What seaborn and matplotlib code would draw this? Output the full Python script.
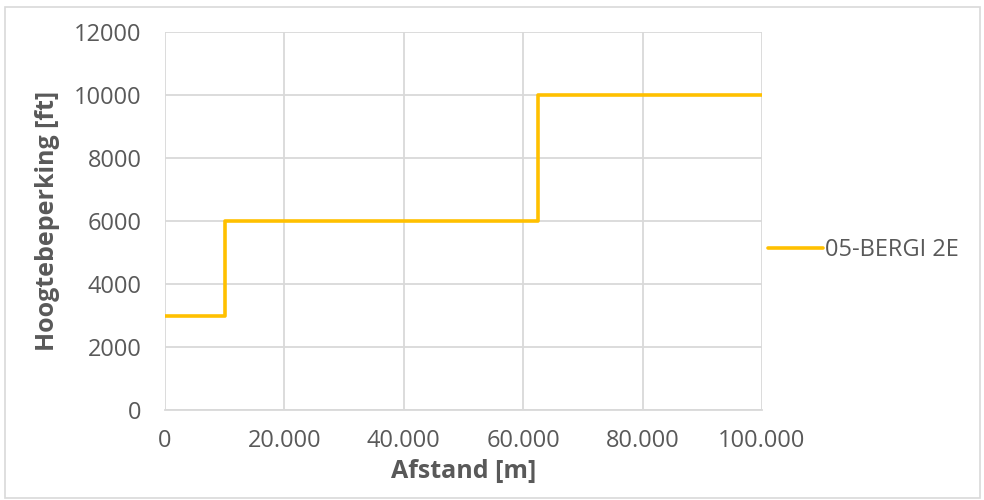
import matplotlib
matplotlib.use("Agg")
import matplotlib.pyplot as plt
import matplotlib.ticker as mticker
import seaborn as sns
import pandas as pd

# Data
afstand = [0, 10000, 62500, 100000]
hoogte = [3000, 6000, 10000, 10000]
series_name = "05-BERGI 2E"

x_ticks = [0, 20000, 40000, 60000, 80000, 100000]
y_ticks = [0, 2000, 4000, 6000, 8000, 10000, 12000]

df = pd.DataFrame({"Afstand": afstand, "Hoogte": hoogte, "Serie": series_name})

sns.set_theme(style="white")
plt.rcParams["font.family"] = ["Open Sans", "DejaVu Sans"]

TXT = "#595959"
GRID = "#d9d9d9"
FS = 17

fig = plt.figure(figsize=(9.84, 5.0), dpi=100)
ax = fig.add_axes([165/984, 90/500, (762-165)/984, (410-32)/500])

sns.lineplot(data=df, x="Afstand", y="Hoogte", hue="Serie", palette=["#FFC000"],
             drawstyle="steps-post", linewidth=2.6, ax=ax)

ax.set_xlim(0, 100000)
ax.set_ylim(0, 12000)
ax.set_xticks(x_ticks)
ax.set_yticks(y_ticks)
ax.xaxis.set_major_formatter(mticker.FuncFormatter(lambda v, p: f"{int(v):,}".replace(",", ".")))
ax.grid(True, color=GRID, linewidth=1.3)
ax.set_axisbelow(True)
for s in ["left", "top", "right"]:
    ax.spines[s].set_visible(False)
ax.spines["bottom"].set_color(GRID)
ax.spines["bottom"].set_linewidth(1.3)
ax.tick_params(axis="y", length=0, labelsize=FS, colors=TXT, pad=17)
ax.tick_params(axis="x", length=0, labelsize=FS, colors=TXT, pad=14)

ax.set_xlabel("Afstand [m]", fontsize=FS + 1, fontweight="bold", color=TXT, labelpad=4)
ax.set_ylabel("Hoogtebeperking [ft]", fontsize=FS + 1, fontweight="bold", color=TXT, labelpad=10)

leg = ax.legend(loc="center left", bbox_to_anchor=(0.987, 0.423), frameon=False,
                fontsize=FS, handlelength=2.3, handletextpad=0.1, borderaxespad=0.2)
for t in leg.get_texts():
    t.set_color(TXT)

# figure border
rect = plt.Rectangle((5/984, 2/500), 975/984, 491/500, transform=fig.transFigure,
                     fill=False, edgecolor="#d9d9d9", linewidth=1.2)
fig.patches.append(rect)

fig.savefig("out.png", dpi=100)
